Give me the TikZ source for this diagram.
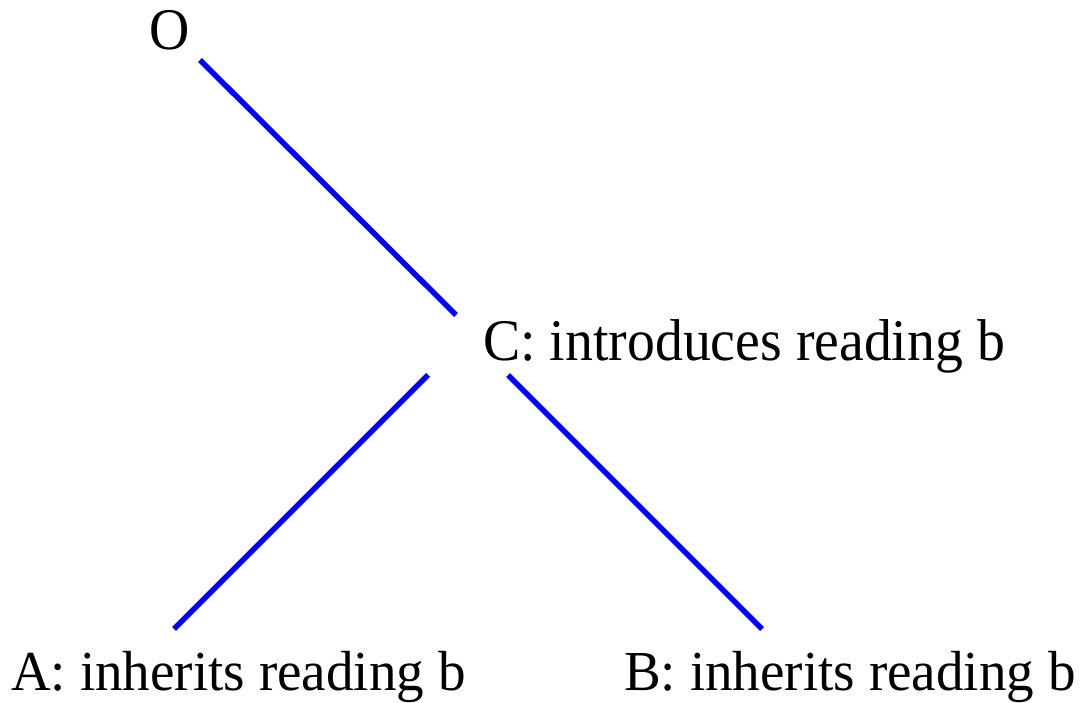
\documentclass[tikz,border=0pt]{standalone}
\usepackage{fontspec}
\setmainfont{Liberation Serif}
\definecolor{lineblue}{RGB}{0,0,255}
\tikzset{
  lbl/.style={inner sep=0pt, anchor=base west, font=\fontsize{59}{60}\selectfont},
  lblsmall/.style={inner sep=0pt, anchor=base west, font=\fontsize{56.5}{57}\selectfont},
  branch/.style={draw=lineblue, line width=5.5pt},
}
\newcommand{\sq}[1]{\scalebox{0.945}[1]{#1}}
\newcommand{\sqb}[1]{\scalebox{0.975}[1]{#1}}
\begin{document}
\begin{tikzpicture}[x=1pt,y=-1pt]
\useasboundingbox[fill=white] (0,0) rectangle (1088,703);
\node[lbl, anchor=base] (O) at (170,50) {\sq{O}};
\node[lbl] (C) at (483,361) {\sq{C: introduces reading b}};
\node[lblsmall] (A) at (11,690) {\sqb{A: inherits reading b}};
\node[lblsmall] (B) at (624,690) {\sqb{B: inherits reading b}};
\coordinate (o1) at (200,60);
\coordinate (c1) at (456,315);
\coordinate (c2) at (428,375);
\coordinate (c3) at (508,375);
\coordinate (a1) at (174,629);
\coordinate (b1) at (762,629);
\draw[branch] (o1) -- (c1);
\draw[branch] (c2) -- (a1);
\draw[branch] (c3) -- (b1);
\end{tikzpicture}
\end{document}
